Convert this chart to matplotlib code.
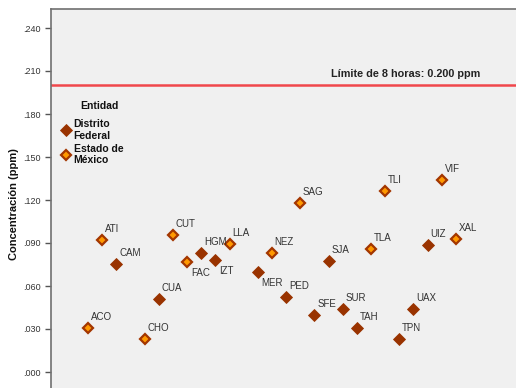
import numpy as np
import matplotlib
matplotlib.use("Agg")
import matplotlib.pyplot as plt

# estaciones (las cadenas vacias son categorias sin dato)
estaciones = ['ACO', 'ATI', 'CAM', '', 'CHO', 'CUA', 'CUT', 'FAC', 'HGM', 'IZT',
              'LLA', '', 'MER', 'NEZ', 'PED', 'SAG', 'SFE', 'SJA', 'SUR', 'TAH',
              'TLA', 'TLI', 'TPN', 'UAX', 'UIZ', 'VIF', 'XAL']
conc = [0.0305, 0.0921, 0.0753, np.nan, 0.0228, 0.0507, 0.0956, 0.0765, 0.0833, 0.0781,
        0.0893, np.nan, 0.0700, 0.0833, 0.0523, 0.1181, 0.0398, 0.0777, 0.0440, 0.0307,
        0.0858, 0.1263, 0.0230, 0.0440, 0.0886, 0.1340, 0.0928]
entidad = ['MEX', 'MEX', 'DF', '', 'MEX', 'DF', 'MEX', 'MEX', 'DF', 'DF',
           'MEX', '', 'DF', 'MEX', 'DF', 'MEX', 'DF', 'DF', 'DF', 'DF',
           'MEX', 'MEX', 'DF', 'DF', 'DF', 'MEX', 'MEX']
abajo = ['FAC', 'IZT', 'MER']  # etiquetas bajo el punto
limite = 0.200
yticks = [0.0, 0.03, 0.06, 0.09, 0.12, 0.15, 0.18, 0.21, 0.24]

plt.rcParams['font.family'] = ['Liberation Sans', 'DejaVu Sans']

fig = plt.figure(figsize=(5.16, 3.88), dpi=100)
W, H = 516, 388
ax = fig.add_axes([51 / W, (388 - 400) / H, (530 - 51) / W, (400 - 9) / H])
ax.set_facecolor('#f0f0f0')

x = np.arange(len(estaciones))
conc = np.array(conc)
ent = np.array(entidad)

df = ent == 'DF'
mx = ent == 'MEX'
ax.plot(x[df], conc[df], 'D', ms=6.2, mfc='#993300', mec='#993300', mew=0.6,
        label='Distrito\nFederal', zorder=3)
ax.plot(x[mx], conc[mx], 'D', ms=5.4, mfc='#ff9900', mec='#a33600', mew=1.6,
        label='Estado de\nMéxico', zorder=3)

for xi, yi, nom in zip(x, conc, estaciones):
    if not nom:
        continue
    if nom in abajo:
        ax.annotate(nom, (xi, yi), xytext=(2.8, -10), textcoords='offset points',
                    fontsize=7, color='#333333', va='baseline', ha='left')
    else:
        ax.annotate(nom, (xi, yi), xytext=(2, 5.8), textcoords='offset points',
                    fontsize=7, color='#333333', va='baseline', ha='left')

ax.axhline(limite, color='#f0474c', lw=1.8, zorder=2)
ax.text(27.7, 0.2058, 'Límite de 8 horas: 0.200 ppm', ha='right', va='baseline',
        fontsize=7.8, fontweight='bold', color='#222222')

ax.set_xlim((51 - 88) / 14.15, (530 - 88) / 14.15)
ax.set_ylim((372 - 400) / 43 * 0.03, (372 - 9) / 43 * 0.03)
ax.set_yticks(yticks)
ax.set_yticklabels(['.%03d' % round(v * 1000) for v in yticks])
ax.set_xticks([])
ax.tick_params(axis='y', labelsize=6.5, labelcolor='#333333', color='#555555',
               length=4, width=1)
for s in ['left', 'top']:
    ax.spines[s].set_color('#707070')
    ax.spines[s].set_linewidth(1.2)
for s in ['right', 'bottom']:
    ax.spines[s].set_visible(False)

ax.set_ylabel('Concentración (ppm)', fontsize=8, fontweight='bold', color='#111111',
              labelpad=3)

leg = ax.legend(loc='upper left', bbox_to_anchor=(0.0146, 0.729), frameon=False,
                fontsize=7.5, handlelength=0.8, handletextpad=0.3,
                labelspacing=0.3, borderaxespad=0)
for t in leg.get_texts():
    t.set_fontweight('bold')
    t.set_color('#111111')
ax.text(0.0605, 0.752, 'Entidad', transform=ax.transAxes, fontsize=7.5,
        fontweight='bold', color='#111111', ha='left', va='center')

# titulo recortado en la parte superior (solo asoma el borde inferior)
fig.text(0.51, 1 + 1 / H, '(Regla de promedio de 8 horas)', ha='center', va='bottom',
         fontsize=10.5, color='#4a7fcf')

fig.savefig('out.png', dpi=100)
